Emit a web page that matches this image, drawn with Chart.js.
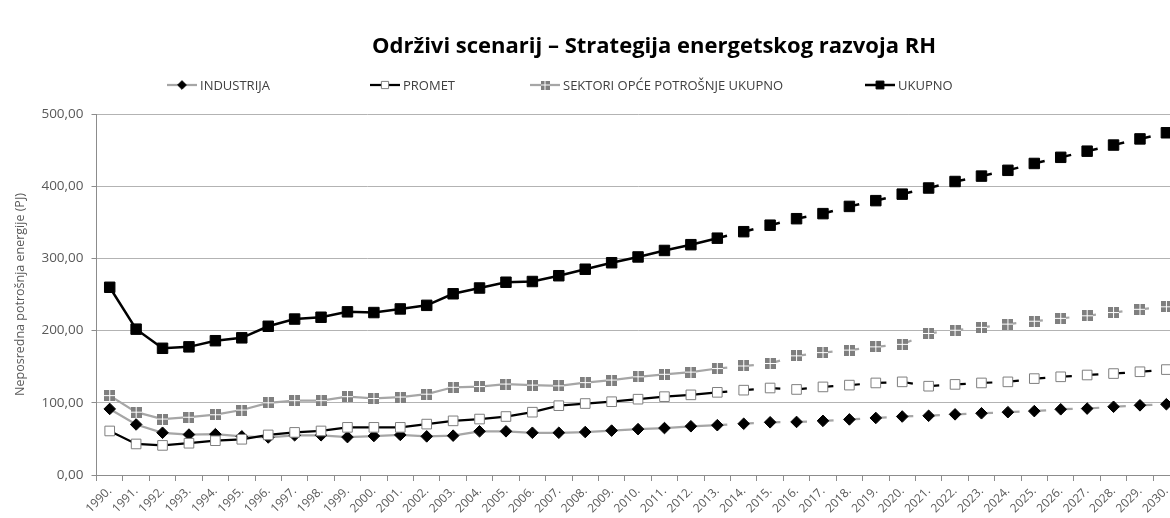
<!DOCTYPE html>
<html lang="hr">
<head>
<meta charset="utf-8">
<title>Održivi scenarij</title>
<script src="https://cdn.jsdelivr.net/npm/chart.js@4/dist/chart.umd.min.js"></script>
<style>
  html, body { margin: 0; padding: 0; background: #fff; overflow: hidden; }
  #wrap { width: 1188px; height: 518px; }
</style>
</head>
<body>
<div id="wrap"><canvas id="energyChart"></canvas></div>
<script>
'use strict';

const years = [
    '1990.', '1991.', '1992.', '1993.', '1994.', '1995.', '1996.', '1997.', '1998.', '1999.',
    '2000.', '2001.', '2002.', '2003.', '2004.', '2005.', '2006.', '2007.', '2008.', '2009.',
    '2010.', '2011.', '2012.', '2013.', '2014.', '2015.', '2016.', '2017.', '2018.', '2019.',
    '2020.', '2021.', '2022.', '2023.', '2024.', '2025.', '2026.', '2027.', '2028.', '2029.',
    '2030.'
];

// zadnja godina s ostvarenim podacima, dalje je projekcija (isprekidano)
const lastMeasuredYear = '2013.';

const industrija = [
    91.5, 70, 58.5, 56, 56.5, 53.5, 52, 55, 55, 52.5,
    54, 55.5, 53.5, 54.5, 60.5, 60.5, 58.5, 58.5, 59.5, 61.5,
    63.5, 65, 67.5, 69, 71, 73, 73.5, 75, 77, 79,
    81, 82, 84, 85.5, 87, 88.5, 91, 92, 94.5, 96.5,
    98
];

const promet = [
    61, 43, 41, 44, 47.5, 49.5, 55.5, 59, 61, 66,
    66, 66, 70.5, 75, 77.5, 81, 87, 96, 99, 101.5,
    105, 108.5, 111, 114.5, 117.5, 120.5, 118.5, 122, 124.5, 127.5,
    129, 123, 125.5, 127.5, 129, 133.5, 136, 138.5, 140.5, 143,
    146
];

const sektoriOpcePotrosnje = [
    110, 87, 77.5, 80, 83.5, 90, 100, 103, 103, 108.5,
    106, 108, 112, 121.5, 122.5, 126, 124.5, 123.5, 128, 131.5,
    136, 139.5, 142.5, 147.5, 151, 154.5, 165, 169.5, 173, 177.5,
    181, 196, 200.5, 204.5, 209, 213, 217, 220.5, 225, 229.5,
    233
];

const ukupno = [
    260, 202, 175.5, 177.5, 186, 190, 206, 216, 218.5, 226,
    225, 230, 235, 251, 259, 267, 268, 276, 285, 294,
    302, 311, 319, 328, 337, 346, 355, 362, 372, 380,
    389, 397.5, 406.5, 414, 422, 431.5, 440, 448.5, 457, 465.5,
    474
];

const chartTitle = 'Održivi scenarij – Strategija energetskog razvoja RH';
const yAxisTitle = 'Neposredna potrošnja energije (PJ)';

const FONT = "'Open Sans', 'Liberation Sans', sans-serif";
const TEXT_GRAY = '#595959';
const AXIS_GRAY = '#8c8c8c';


// siva "kockica" podijeljena na četiri polja
function quadMarker(size) {
    const c = document.createElement('canvas');
    c.width = size;
    c.height = size;
    const g = c.getContext('2d');
    g.fillStyle = '#7f7f7f';
    g.fillRect(0, 0, size, size);
    g.fillStyle = '#ffffff';
    const mid = Math.floor(size / 2);
    g.fillRect(mid, 0, 1, size);
    g.fillRect(0, mid, size, 1);
    return c;
}

const quad = quadMarker(11);
const legendQuad = quadMarker(9);


// od zadnje izmjerene godine crta se isprekidano
function projectionDash(dash) {
    const from = years.indexOf(lastMeasuredYear);
    return ctx => ctx.p0DataIndex >= from ? dash : undefined;
}


function formatValue(v) {
    return v.toFixed(2).replace('.', ',');
}


// naslov i legenda u stilu Excela: linija s oznakom u sredini, razmaknute stavke
const headerAndLegend = {
    id: 'headerAndLegend',
    afterDraw(chart, args, opts) {
        const ctx = chart.ctx;
        ctx.save();

        ctx.textAlign = 'center';
        ctx.textBaseline = 'middle';
        ctx.fillStyle = '#000000';
        ctx.font = opts.titleFont;
        ctx.fillText(opts.title, opts.titleX, opts.titleY);

        ctx.textAlign = 'left';
        ctx.font = opts.font;
        chart.data.datasets.forEach((ds, i) => {
            const cx = opts.slots[i];
            const cy = opts.y;
            ctx.setLineDash([]);
            ctx.strokeStyle = ds.borderColor;
            ctx.lineWidth = ds.borderWidth;
            ctx.beginPath();
            ctx.moveTo(cx - 15, cy);
            ctx.lineTo(cx + 15, cy);
            ctx.stroke();

            ctx.fillStyle = ds.pointBackgroundColor;
            ctx.strokeStyle = ds.pointBorderColor;
            ctx.lineWidth = ds.pointBorderWidth;
            const style = typeof ds.pointStyle === 'string' ? ds.pointStyle : legendQuad;
            Chart.helpers.drawPoint(ctx, {
                pointStyle: style,
                radius: ds.pointRadius * 0.75,
                borderWidth: ds.pointBorderWidth,
                rotation: 0
            }, cx, cy);

            ctx.fillStyle = opts.color;
            ctx.fillText(ds.label, cx + 18, cy + 1);
        });
        ctx.restore();
    }
};


document.addEventListener('DOMContentLoaded', () => {
    const ctx = document.getElementById('energyChart').getContext('2d');

    new Chart(ctx, {
        type: 'line',
        data: {
            labels: years,
            datasets: [
                {
                    label: 'INDUSTRIJA',
                    data: industrija,
                    borderColor: '#a6a6a6',
                    borderWidth: 2.25,
                    pointStyle: 'rectRot',
                    pointRadius: 5.8,
                    pointBackgroundColor: '#000000',
                    pointBorderColor: '#000000',
                    pointBorderWidth: 1,
                    segment: { borderDash: projectionDash([10, 16.6]) },
                    order: 4
                },
                {
                    label: 'PROMET',
                    data: promet,
                    borderColor: '#000000',
                    borderWidth: 2.25,
                    pointStyle: 'rect',
                    pointRadius: 6.8,
                    pointBackgroundColor: '#ffffff',
                    pointBorderColor: '#7f7f7f',
                    pointBorderWidth: 1,
                    segment: { borderDash: projectionDash([10, 16.6]) },
                    order: 3
                },
                {
                    label: 'SEKTORI OPĆE POTROŠNJE UKUPNO',
                    data: sektoriOpcePotrosnje,
                    borderColor: '#a6a6a6',
                    borderWidth: 2.25,
                    pointStyle: quad,
                    pointRadius: 6,
                    pointBackgroundColor: '#7f7f7f',
                    pointBorderColor: '#7f7f7f',
                    pointBorderWidth: 0,
                    segment: { borderDash: projectionDash([10, 16.7]) },
                    order: 2
                },
                {
                    label: 'UKUPNO',
                    data: ukupno,
                    borderColor: '#000000',
                    borderWidth: 2.5,
                    pointStyle: 'rect',
                    pointRadius: 7.4,
                    pointBackgroundColor: '#000000',
                    pointBorderColor: '#000000',
                    pointBorderWidth: 1,
                    segment: { borderDash: projectionDash([10, 17.2]) },
                    order: 1
                }
            ]
        },
        options: {
            responsive: true,
            maintainAspectRatio: false,
            animation: false,
            layout: { padding: { top: 114, left: 0, right: 0, bottom: 0 } },
            plugins: {
                legend: { display: false },
                title: { display: false },
                tooltip: { enabled: false },
                headerAndLegend: {
                    title: chartTitle,
                    titleFont: `bold 22px ${FONT}`,
                    titleX: 654,
                    titleY: 47,
                    slots: [182, 385, 545, 880],
                    y: 85,
                    font: `13px ${FONT}`,
                    color: '#404040'
                }
            },
            scales: {
                x: {
                    offset: true,
                    grid: {
                        offset: true,
                        drawOnChartArea: false,
                        drawTicks: true,
                        tickLength: 6,
                        tickColor: AXIS_GRAY
                    },
                    border: { display: true, color: AXIS_GRAY },
                    ticks: {
                        autoSkip: false,
                        maxRotation: 45,
                        minRotation: 45,
                        padding: 3,
                        color: TEXT_GRAY,
                        font: { family: FONT, size: 12 }
                    },
                    afterFit: scale => { scale.height = 43; }
                },
                y: {
                    min: 0,
                    max: 500,
                    grid: {
                        color: '#b3b3b3',
                        tickLength: 5,
                        tickColor: AXIS_GRAY
                    },
                    border: { display: true, color: AXIS_GRAY },
                    ticks: {
                        stepSize: 100,
                        padding: 8,
                        color: TEXT_GRAY,
                        font: { family: FONT, size: 13.5 },
                        callback: v => formatValue(v)
                    },
                    title: {
                        display: true,
                        text: yAxisTitle,
                        color: TEXT_GRAY,
                        font: { family: FONT, size: 12.5, lineHeight: 1.2 },
                        padding: { top: 12.5, bottom: 0 }
                    },
                    afterFit: scale => { scale.width = 96.5; }
                }
            }
        },
        plugins: [headerAndLegend]
    });
});
</script>
</body>
</html>
